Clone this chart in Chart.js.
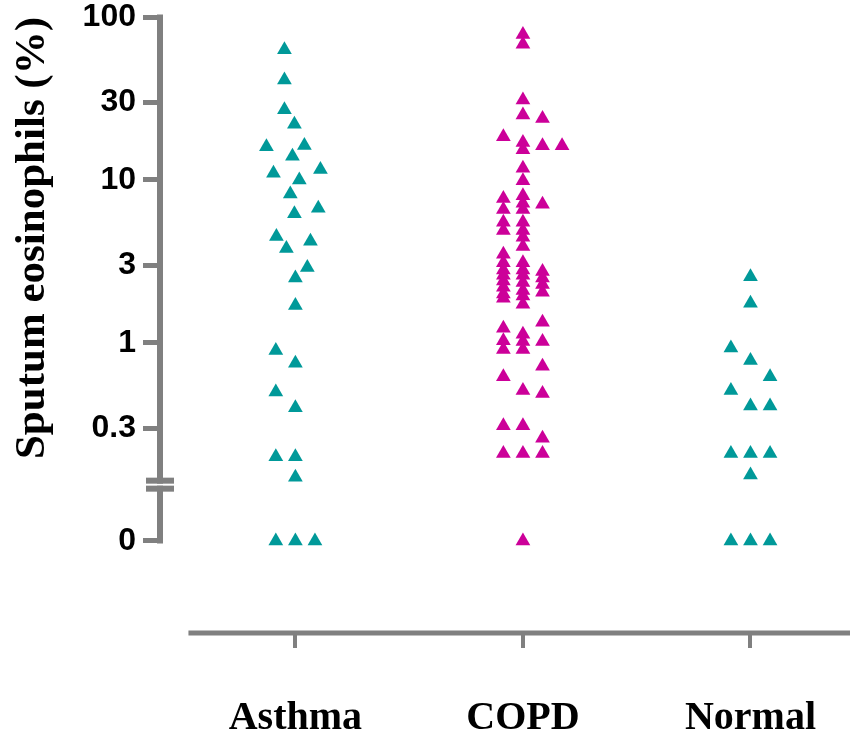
<!DOCTYPE html>
<html>
<head>
<meta charset="utf-8">
<script src="https://cdn.jsdelivr.net/npm/chart.js@4.4.1/dist/chart.umd.min.js"></script>
<style>
  html, body { margin: 0; padding: 0; background: #fff; }
  #wrap { width: 850px; height: 735px; }
</style>
</head>
<body>
<div id="wrap"><canvas id="chart" width="850" height="735"></canvas></div>
<script>
// groups along the x axis
const categories = ['Asthma', 'COPD', 'Normal'];
const yTickValues = [100, 30, 10, 3, 1, 0.3, 0];

// sputum eosinophils (%); offsets = sideways jitter in marker widths
const asthmaValues  = [63, 41, 27, 22, 16, 16.3, 14, 11, 11.6, 10, 8.2, 6.2, 6.7, 4.5, 3.8, 4.2, 2.9, 2.5, 1.7, 0.9, 0.75, 0.5, 0.4, 0.2, 0.2, 0.15, 0, 0, 0];
const asthmaOffsets = [-0.56, -0.56, -0.56, -0.05, -1.48, 0.46, -0.15, -1.12, 1.28, 0.2, -0.26, -0.05, 1.17, -0.97, -0.46, 0.77, 0.61, 0, 0, -1, 0, -1, 0, -1, 0, 0, -1, 0, 1];

const copdValues = [
  78, 68, 31, 25, 17, 15.3, 11.8, 9.9, 8.0, 7.2, 6.6, 5.5, 4.9, 4.45, 3.9, 3.1, 2.8, 2.6, 2.35, 2.1, 1.94, 1.73, 1.13, 1.02, 0.91, 0.51, 0.31, 0.21, 0,
  18.4, 7.7, 6.6, 5.5, 4.9, 3.5, 3.1, 2.8, 2.6, 2.4, 2.2, 2.0, 1.88, 1.23, 1.03, 0.91, 0.62, 0.31, 0.21,
  23.8, 16.2, 7.1, 2.74, 2.5, 2.28, 2.05, 1.34, 1.02, 0.72, 0.49, 0.26, 0.21,
  16.2
];
const copdOffsets = [
  0, 0, 0, 0, 0, 0, 0, 0, 0, 0, 0, 0, 0, 0, 0, 0, 0, 0, 0, 0, 0, 0, 0, 0, 0, 0, 0, 0, 0,
  -1, -1, -1, -1, -1, -1, -1, -1, -1, -1, -1, -1, -1, -1, -1, -1, -1, -1, -1,
  1, 1, 1, 1, 1, 1, 1, 1, 1, 1, 1, 1, 1,
  2
];

const normalValues  = [2.55, 1.75, 0.93, 0.78, 0.62, 0.51, 0.41, 0.41, 0.21, 0.21, 0.21, 0.155, 0, 0, 0];
const normalOffsets = [0, 0, -1, 0, 1, -1, 0, 1, -1, 0, 1, 0, -1, 0, 1];

// scale setup (log axis, zero row drawn below a break)
const zeroValue = 0.061;
const breakValue = 0.135;
const yMin = 0.0166, yMax = 100;
const xMin = 0.405, xMax = 3.40, xAxisStart = 0.53;
const jitter = 0.086;

const teal = '#009999';
const magenta = '#cc0099';
const axisGrey = '#808080';

function toPoints(catIndex, values, offsets) {
  return values.map((v, i) => ({
    x: catIndex + 1 + offsets[i] * jitter,
    y: v === 0 ? zeroValue : v
  }));
}

// axis lines drawn by hand: y line stops at the zero row, x line is detached
const axisLines = {
  id: 'axisLines',
  afterDraw(chart) {
    const { ctx, chartArea, scales: { x, y } } = chart;
    const ax = chartArea.left;
    ctx.save();
    ctx.strokeStyle = axisGrey;
    ctx.lineWidth = 6;
    ctx.beginPath();
    ctx.moveTo(ax, y.getPixelForValue(yMax) - 2.5);
    ctx.lineTo(ax, y.getPixelForValue(zeroValue) + 2.5);
    ctx.stroke();

    ctx.lineWidth = 5;
    ctx.beginPath();
    ctx.moveTo(x.getPixelForValue(xAxisStart), chartArea.bottom);
    ctx.lineTo(chart.width, chartArea.bottom);
    ctx.stroke();

    const by = y.getPixelForValue(breakValue);
    ctx.fillStyle = '#fff';
    ctx.fillRect(ax - 14, by - 1, 28, 2);
    ctx.fillStyle = axisGrey;
    ctx.fillRect(ax - 14, by - 7, 28, 6);
    ctx.fillRect(ax - 14, by + 1, 28, 6);
    ctx.restore();
  }
};

const pointDefaults = { pointStyle: 'triangle', pointRadius: 8.5, borderWidth: 0, showLine: false, clip: false };

new Chart(document.getElementById('chart'), {
  type: 'scatter',
  data: {
    datasets: [
      { ...pointDefaults, label: categories[0], data: toPoints(0, asthmaValues, asthmaOffsets), backgroundColor: teal },
      { ...pointDefaults, label: categories[1], data: toPoints(1, copdValues, copdOffsets), backgroundColor: magenta },
      { ...pointDefaults, label: categories[2], data: toPoints(2, normalValues, normalOffsets), backgroundColor: teal }
    ]
  },
  options: {
    responsive: false,
    animation: false,
    devicePixelRatio: 1,
    layout: { padding: { top: 17, left: 0, right: 0, bottom: 0 } },
    plugins: { legend: { display: false }, tooltip: { enabled: false } },
    scales: {
      x: {
        type: 'linear',
        min: xMin,
        max: xMax,
        afterBuildTicks: s => { s.ticks = categories.map((c, i) => ({ value: i + 1 })); },
        afterFit: s => { s.height = 102; s.paddingLeft = 0; s.paddingRight = 0; },
        border: { display: false },
        grid: { drawOnChartArea: false, drawTicks: true, tickLength: 15, lineWidth: 4, color: axisGrey },
        ticks: {
          autoSkip: false,
          maxRotation: 0,
          padding: 47,
          color: '#000',
          font: { family: '"Liberation Serif", "Times New Roman", serif', weight: 'bold', size: 40 },
          callback: v => categories[v - 1]
        }
      },
      y: {
        type: 'logarithmic',
        min: yMin,
        max: yMax,
        afterBuildTicks: s => { s.ticks = yTickValues.map(v => ({ value: v === 0 ? zeroValue : v })); },
        afterFit: s => { s.width = 160; s.paddingTop = 0; s.paddingBottom = 0; },
        border: { display: false },
        grid: { drawOnChartArea: false, drawTicks: true, tickLength: 17, lineWidth: 5, color: axisGrey },
        ticks: {
          autoSkip: false,
          padding: 7,
          color: '#000',
          font: { family: '"Liberation Sans", Arial, sans-serif', weight: 'bold', size: 32, lineHeight: 1 },
          callback: v => (v === zeroValue ? '0' : String(v))
        },
        title: {
          display: true,
          text: 'Sputum eosinophils (%)',
          align: 'end',
          color: '#000',
          padding: { top: 7, bottom: 0 },
          font: { family: '"Liberation Serif", "Times New Roman", serif', weight: 'bold', size: 43 }
        }
      }
    }
  },
  plugins: [axisLines]
});
</script>
</body>
</html>
